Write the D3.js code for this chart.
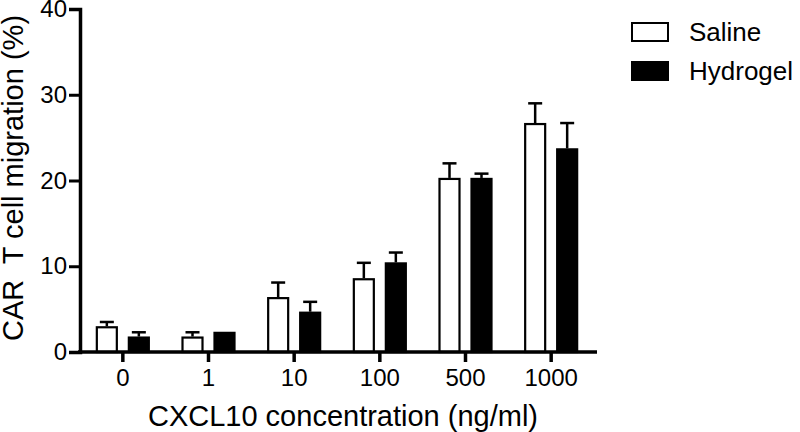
<!DOCTYPE html>
<html><head><meta charset="utf-8">
<script src="https://cdn.jsdelivr.net/npm/d3@7"></script>
<style>body{margin:0;background:#fff}svg{display:block}text{font-family:"Liberation Sans",Arial,sans-serif;fill:#000}</style>
</head><body><svg id="c" width="800" height="432"></svg>
<script>
const categories = ["0","1","10","100","500","1000"];
const series = ["Saline","Hydrogel"];
const salineMean = [3.0, 1.8, 6.4, 8.6, 20.3, 26.7];
const salineErr  = [0.5, 0.5, 1.7, 1.8, 1.7, 2.3];
const hydrogelMean = [1.8, 2.35, 4.7, 10.45, 20.3, 23.75];
const hydrogelErr  = [0.5, 0, 1.15, 1.15, 0.5, 2.95];
const yTicks = [0, 10, 20, 30, 40];
const xTitle = "CXCL10 concentration (ng/ml)";
const yTitle = "CAR  T cell migration (%)";

const svg = d3.select("#c");
const x = d3.scaleBand().domain(categories).range([80, 594]);
const y = d3.scaleLinear().domain([0, 40]).range([352, 9]);
const barW = 22;
const fills = {Saline: "#fff", Hydrogel: "#000"};

const data = [];
categories.forEach((c, i) => {
  data.push({c, s: "Saline", v: salineMean[i], e: salineErr[i]});
  data.push({c, s: "Hydrogel", v: hydrogelMean[i], e: hydrogelErr[i]});
});
const cx = d => x(d.c) + x.bandwidth() / 2 + (d.s === "Saline" ? -16 : 16);

// error bars (upper only)
const eb = svg.append("g").attr("stroke", "#000").attr("stroke-width", 2.5);
data.filter(d => d.e > 0).forEach(d => {
  eb.append("line").attr("x1", cx(d)).attr("x2", cx(d)).attr("y1", y(d.v)).attr("y2", y(d.v + d.e));
  eb.append("line").attr("x1", cx(d) - 7).attr("x2", cx(d) + 7).attr("y1", y(d.v + d.e)).attr("y2", y(d.v + d.e));
});

// bars
svg.append("g").selectAll("rect").data(data).join("rect")
  .attr("x", d => cx(d) - barW / 2 + 1)
  .attr("width", barW - 2)
  .attr("y", d => y(d.v) + 1)
  .attr("height", d => y(0) - y(d.v) - 1)
  .attr("fill", d => fills[d.s])
  .attr("stroke", "#000").attr("stroke-width", 2.2);

// y axis
const ya = svg.append("g").attr("transform", "translate(80,0)")
  .call(d3.axisLeft(y).tickValues(yTicks).tickSize(11).tickPadding(2));
ya.select(".domain").attr("stroke-width", 3.5);
ya.selectAll(".tick line").attr("stroke-width", 3);
ya.selectAll(".tick text").attr("font-size", 24).style("font-family", "Liberation Sans, Arial, sans-serif");

// x axis
const xa = svg.append("g").attr("transform", "translate(0,352)")
  .call(d3.axisBottom(x).tickSize(10).tickPadding(7).tickSizeOuter(0));
xa.select(".domain").attr("d", "M78,0H597").attr("stroke-width", 3.5);
xa.selectAll(".tick line").attr("stroke-width", 3.5);
xa.selectAll(".tick text").attr("font-size", 24).style("font-family", "Liberation Sans, Arial, sans-serif");

// titles
svg.append("text").attr("x", 343).attr("y", 426).attr("text-anchor", "middle")
  .attr("font-size", 29).text(xTitle);
svg.append("text").attr("transform", "translate(23,178) rotate(-90)").attr("text-anchor", "middle")
  .attr("font-size", 29).style("white-space", "pre").text(yTitle);

// legend
const lg = svg.append("g");
series.forEach((s, i) => {
  const yy = 23 + i * 39;
  lg.append("rect").attr("x", 632).attr("y", yy).attr("width", 36).attr("height", 18)
    .attr("fill", fills[s]).attr("stroke", "#000").attr("stroke-width", 2);
  lg.append("text").attr("x", 689).attr("y", yy + 18).attr("font-size", 26).text(s);
});
</script></body></html>
